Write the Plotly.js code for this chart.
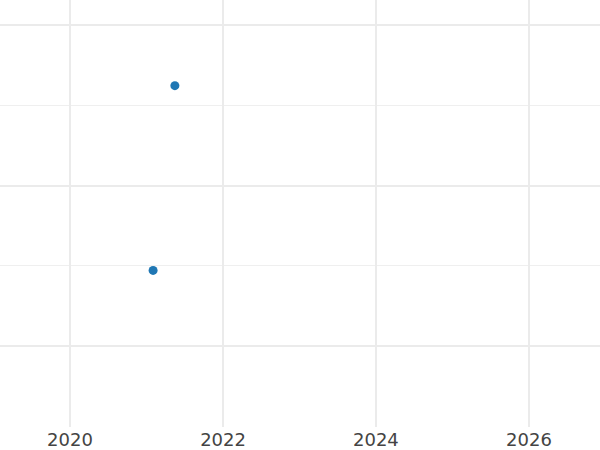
<!DOCTYPE html>
<html>
<head>
<meta charset="utf-8">
<script src="https://cdn.plot.ly/plotly-3.0.1.min.js"></script>
<style>html,body{margin:0;padding:0;background:#fff;}#chart{width:600px;height:450px;}</style>
</head>
<body>
<div id="chart"></div>
<script>
const dates = ["2021-05-16", "2021-02-01"];
const values = [1.622, 0.471];

const trace = {
  type: "scatter",
  mode: "markers",
  x: dates,
  y: values,
  marker: {color: "#1f77b4", size: 9},
  showlegend: false,
  hoverinfo: "skip"
};

const layout = {
  width: 600,
  height: 450,
  margin: {l: 0, r: 0, t: 0, b: 23, pad: 0},
  paper_bgcolor: "#ffffff",
  plot_bgcolor: "#ffffff",
  font: {family: "DejaVu Sans", size: 18, color: "#444444"},
  xaxis: {
    type: "date",
    range: ["2019-02-01", "2026-12-06"],
    tickmode: "array",
    tickvals: ["2020-01-01", "2022-01-01", "2024-01-01", "2026-01-01"],
    ticktext: ["2020", "2022", "2024", "2026"],
    showgrid: true,
    gridcolor: "#ebebeb",
    gridwidth: 2,
    zeroline: false,
    showline: false,
    ticks: "",
    automargin: false
  },
  yaxis: {
    range: [-0.505, 2.156],
    dtick: 1,
    tick0: 0,
    showticklabels: false,
    showgrid: true,
    gridcolor: "#ebebeb",
    gridwidth: 2,
    zeroline: false,
    showline: false,
    ticks: "",
    minor: {dtick: 0.5, tick0: 0, showgrid: true, gridcolor: "#efefef", gridwidth: 1},
    automargin: false
  }
};

Plotly.newPlot("chart", [trace], layout, {staticPlot: true, displayModeBar: false});
</script>
</body>
</html>
